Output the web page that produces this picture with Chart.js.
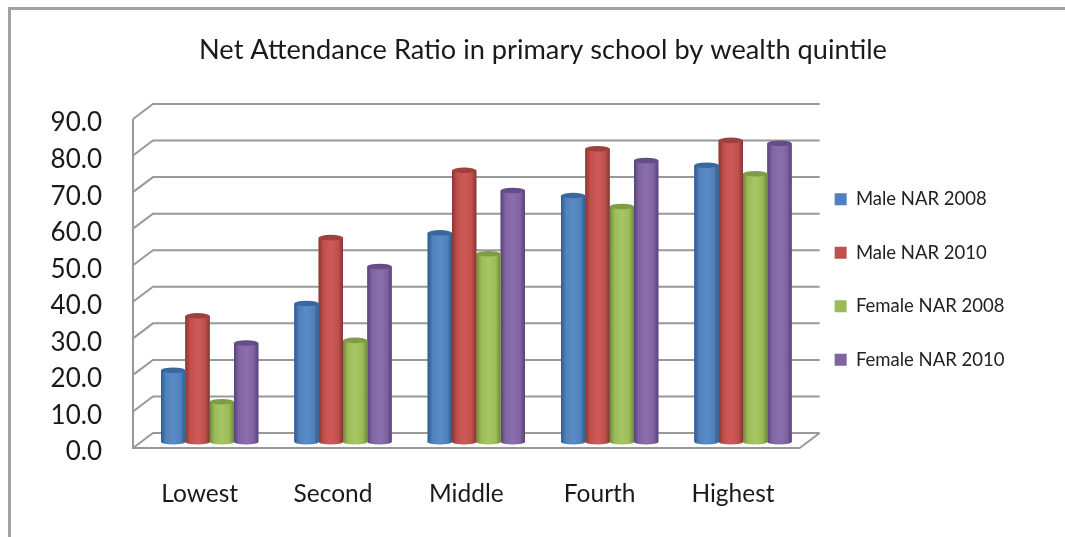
<!DOCTYPE html>
<html>
<head>
<meta charset="utf-8">
<title>Net Attendance Ratio</title>
<script src="https://cdn.jsdelivr.net/npm/chart.js@4"></script>
<style>
  body { margin: 0; background: #fff; overflow: hidden; }
  #frame { position: absolute; left: 8px; top: 7px; width: 1057px; height: 530px; border-left: 3px solid #a2a2a2; border-top: 3px solid #a2a2a2; box-sizing: border-box; }
  #chart { position: absolute; left: 0; top: 0; }
</style>
</head>
<body>
<div id="frame"></div>
<canvas id="chart" width="1065" height="537"></canvas>
<script>
// Data
const categories = ['Lowest', 'Second', 'Middle', 'Fourth', 'Highest'];
const maleNar2008 = [19.6, 37.9, 57.2, 67.4, 75.7];
const maleNar2010 = [34.5, 55.9, 74.3, 80.2, 82.5];
const femaleNar2008 = [11.0, 27.8, 51.5, 64.4, 73.4];
const femaleNar2010 = [27.1, 48.0, 68.8, 77.0, 81.7];
const seriesNames = ['Male NAR 2008', 'Male NAR 2010', 'Female NAR 2008', 'Female NAR 2010'];
const seriesColors = ['#4f81bd', '#c0504d', '#9bbb59', '#8064a2'];
const edgeColors = ['#2f5a8c', '#8a3431', '#6f8a3a', '#56427a'];
const lightColors = ['#5a8cc8', '#cf5a57', '#a6c763', '#8a6eae'];
const capColors = ['#3a689e', '#a03f3c', '#7f9c46', '#654d87'];

// Depth of the 3D box. The y scale sits a little under the front plane so the tick labels line up
const frontLift = 4;
const wallDx = 20, wallDy = 15;
const barDx = 10, barDy = 6 + frontLift;
const wallColor = '#999999';

const cylinders = {
  id: 'cylinders',
  afterLayout(chart) {
    // labels are clipped to the scale box, let them run past the left padding
    chart.scales.y.left = 0;
  },
  beforeDatasetsDraw(chart) {
    const { ctx, scales: { x, y } } = chart;
    ctx.save();
    ctx.strokeStyle = wallColor;
    ctx.lineWidth = 2;
    ctx.beginPath();
    y.ticks.forEach(t => {
      const py = y.getPixelForValue(t.value) - frontLift;
      ctx.moveTo(x.left, py);
      ctx.lineTo(x.left + wallDx, py - wallDy);
      ctx.lineTo(x.right + wallDx, py - wallDy);
    });
    ctx.moveTo(x.left, y.top - frontLift);
    ctx.lineTo(x.left, y.bottom - frontLift);
    ctx.lineTo(x.right, y.bottom - frontLift);
    ctx.lineTo(x.right + wallDx, y.bottom - frontLift - wallDy);
    ctx.stroke();
    ctx.restore();
    ctx.save();
    ctx.translate(barDx, -barDy);
  },
  afterDatasetDraw(chart, args) {
    const { ctx } = chart;
    const i = args.index;
    args.meta.data.forEach(bar => {
      const p = bar.getProps(['x', 'y', 'base', 'width'], true);
      const l = p.x - p.width / 2, r = p.x + p.width / 2;
      const g = ctx.createLinearGradient(l, 0, r, 0);
      g.addColorStop(0, edgeColors[i]);
      g.addColorStop(0.2, seriesColors[i]);
      g.addColorStop(0.5, lightColors[i]);
      g.addColorStop(0.8, seriesColors[i]);
      g.addColorStop(1, edgeColors[i]);
      ctx.fillStyle = g;
      ctx.fillRect(l, p.y, p.width, p.base - p.y);
      ctx.beginPath();
      ctx.ellipse(p.x, p.base, p.width / 2, 2.5, 0, 0, Math.PI * 2);
      ctx.fill();
      ctx.fillStyle = capColors[i];
      ctx.beginPath();
      ctx.ellipse(p.x, p.y, p.width / 2, 2.8, 0, 0, Math.PI * 2);
      ctx.fill();
    });
  },
  afterDatasetsDraw(chart) {
    chart.ctx.restore();
  }
};

const datasets = [maleNar2008, maleNar2010, femaleNar2008, femaleNar2010].map((values, i) => ({
  label: seriesNames[i],
  data: values,
  backgroundColor: seriesColors[i],
  borderWidth: 0,
  categoryPercentage: 0.73,
  barPercentage: 1,
  clip: false
}));

new Chart(document.getElementById('chart'), {
  type: 'bar',
  data: { labels: categories, datasets },
  plugins: [cylinders],
  options: {
    responsive: false,
    animation: false,
    layout: { padding: { left: 71.5, right: 50.5, top: 36, bottom: 14 } },
    plugins: {
      tooltip: { enabled: false },
      title: {
        display: true,
        text: 'Net Attendance Ratio in primary school by wealth quintile',
        color: '#1a1a1a',
        font: { family: 'Lato', size: 27.2, weight: 'normal', lineHeight: 28 / 27.2 },
        padding: { top: 0, bottom: 59 }
      },
      legend: {
        position: 'right',
        labels: {
          color: '#222',
          font: { family: 'Lato', size: 18.5 },
          boxWidth: 12,
          boxHeight: 12,
          padding: 35
        }
      }
    },
    scales: {
      x: {
        grid: { display: false, drawTicks: false },
        border: { display: false },
        afterFit: s => { s.height = 71; },
        ticks: { color: '#1a1a1a', padding: 27, font: { family: 'Lato', size: 24.5 }, maxRotation: 0 }
      },
      y: {
        min: 0,
        max: 90,
        grid: { display: false, drawTicks: false },
        border: { display: false },
        afterFit: s => { s.width = 61.5; },
        ticks: {
          stepSize: 10,
          color: '#1a1a1a',
          padding: 31,
          font: { family: 'Lato', size: 26 },
          callback: v => v.toFixed(1)
        }
      }
    }
  }
});
</script>
</body>
</html>
